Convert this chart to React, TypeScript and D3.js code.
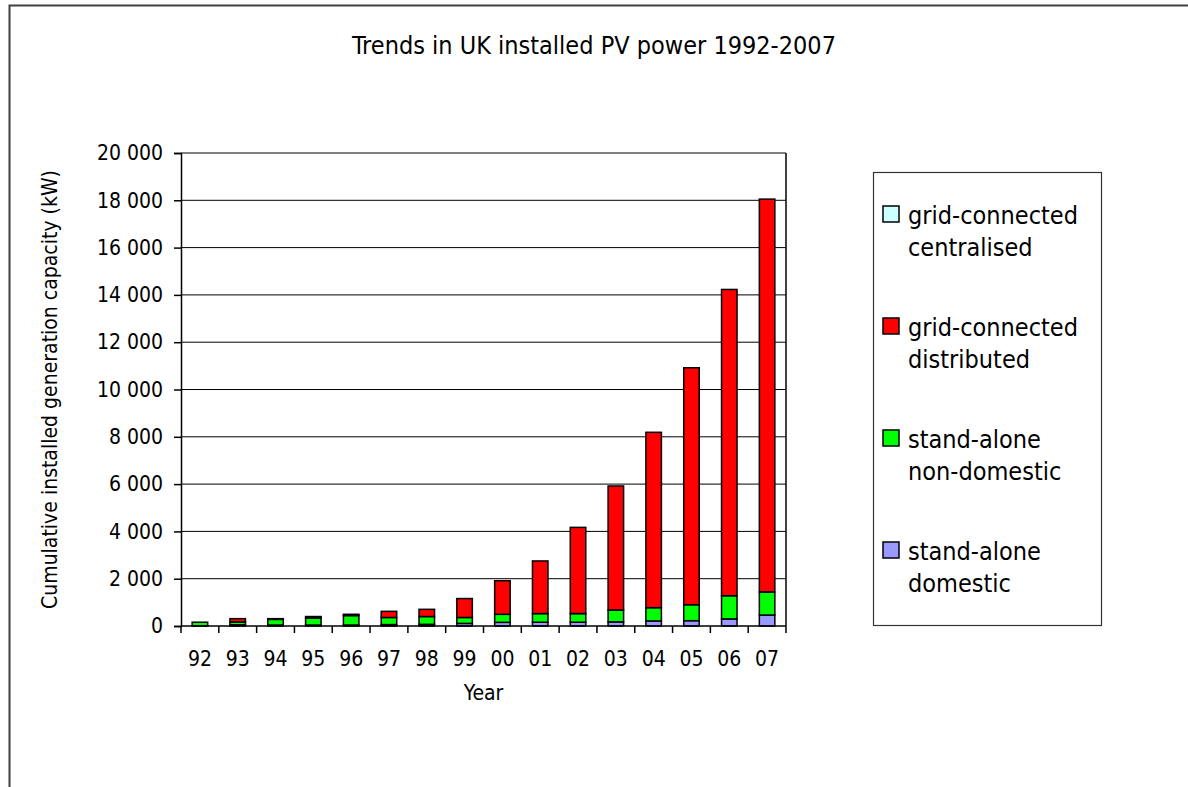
import React, { useEffect, useRef } from 'react';
import * as d3 from 'd3';

// values (kW, cumulative)
const years = ['92', '93', '94', '95', '96', '97', '98', '99', '00', '01', '02', '03', '04', '05', '06', '07'];
const domestic = [10, 50, 40, 40, 40, 60, 70, 110, 155, 160, 160, 175, 215, 225, 300, 465];
const nonDomestic = [150, 120, 240, 300, 400, 300, 330, 250, 340, 365, 365, 500, 560, 675, 980, 975];
const distributed = [0, 140, 30, 60, 55, 260, 305, 800, 1420, 2225, 3645, 5245, 7415, 10020, 12950, 16610];
const centralised = [0, 0, 0, 0, 0, 0, 0, 0, 0, 0, 0, 0, 0, 0, 0, 0];

const yTicks = [0, 2000, 4000, 6000, 8000, 10000, 12000, 14000, 16000, 18000, 20000];

const seriesKeys = ['domestic', 'nonDomestic', 'distributed', 'centralised'];
const seriesColors: Record<string, string> = {
  domestic: '#9999ff',
  nonDomestic: '#00ff00',
  distributed: '#ff0000',
  centralised: '#ccffff',
};
const legendItems = [
  { key: 'centralised', lines: ['grid-connected', 'centralised'] },
  { key: 'distributed', lines: ['grid-connected', 'distributed'] },
  { key: 'nonDomestic', lines: ['stand-alone', 'non-domestic'] },
  { key: 'domestic', lines: ['stand-alone', 'domestic'] },
];

const FONT = "'DejaVu Sans Condensed', 'DejaVu Sans', sans-serif";

const App: React.FC = () => {
  const ref = useRef<SVGSVGElement | null>(null);

  useEffect(() => {
    if (!ref.current) return;
    const svg = d3.select(ref.current);
    svg.selectAll('*').remove();

    const W = 1188, H = 787;
    const plot = { left: 181, right: 786, top: 153, bottom: 626 };

    // outer chart frame (runs off the page on the right / bottom)
    svg.append('path')
      .attr('d', `M9.5,${H} V5.5 H${W}`)
      .attr('fill', 'none')
      .attr('stroke', '#404040')
      .attr('stroke-width', 2);

    svg.append('text')
      .attr('x', 594)
      .attr('y', 54)
      .attr('text-anchor', 'middle')
      .style('font-family', FONT)
      .style('font-size', '25px')
      .text('Trends in UK installed PV power 1992-2007');

    const rows = years.map((y, i) => ({
      year: y,
      domestic: domestic[i],
      nonDomestic: nonDomestic[i],
      distributed: distributed[i],
      centralised: centralised[i],
    }));

    const x = d3.scaleBand<string>()
      .domain(years)
      .range([plot.left, plot.right])
      .paddingInner(0.59)
      .paddingOuter(0.295);

    const y = d3.scaleLinear().domain([0, 20000]).range([plot.bottom, plot.top]);

    // gridlines
    svg.append('g')
      .selectAll('line')
      .data(yTicks.filter(t => t > 0))
      .enter().append('line')
      .attr('x1', plot.left)
      .attr('x2', plot.right)
      .attr('y1', d => y(d))
      .attr('y2', d => y(d))
      .attr('stroke', '#000')
      .attr('stroke-width', 1);

    // right border of plot area
    svg.append('line')
      .attr('x1', plot.right).attr('x2', plot.right)
      .attr('y1', plot.top).attr('y2', plot.bottom)
      .attr('stroke', '#000').attr('stroke-width', 1.5);

    const stack = d3.stack<any>().keys(seriesKeys);
    const layers = stack(rows);

    svg.append('g')
      .selectAll('g')
      .data(layers)
      .enter().append('g')
      .attr('fill', d => seriesColors[d.key])
      .selectAll('rect')
      .data(d => d.filter(s => s[1] - s[0] > 0))
      .enter().append('rect')
      .attr('x', d => x(d.data.year) as number)
      .attr('width', x.bandwidth())
      .attr('y', d => y(d[1]))
      .attr('height', d => y(d[0]) - y(d[1]))
      .attr('stroke', '#000')
      .attr('stroke-width', 1.5);

    // y axis
    const yAxis = svg.append('g').attr('transform', `translate(${plot.left},0)`)
      .call(d3.axisLeft(y).tickValues(yTicks).tickSize(7).tickPadding(11)
        .tickFormat(d => d3.format(',')(d as number).replace(/,/g, ' ')));
    yAxis.select('.domain').attr('stroke', '#000').attr('stroke-width', 1.5);
    yAxis.selectAll('.tick line').attr('stroke', '#000').attr('stroke-width', 1.5);
    yAxis.selectAll('.tick text')
      .attr('fill', '#000')
      .style('font-family', FONT)
      .style('font-size', '21px');

    // x axis: ticks at category boundaries
    const xAxis = svg.append('g').attr('transform', `translate(0,${plot.bottom})`);
    xAxis.append('line')
      .attr('x1', plot.left).attr('x2', plot.right)
      .attr('stroke', '#000').attr('stroke-width', 1.5);
    const step = x.step();
    xAxis.selectAll('.xt')
      .data(d3.range(years.length + 1))
      .enter().append('line')
      .attr('class', 'xt')
      .attr('x1', i => plot.left + i * step)
      .attr('x2', i => plot.left + i * step)
      .attr('y1', 0).attr('y2', 7)
      .attr('stroke', '#000').attr('stroke-width', 1.5);
    xAxis.selectAll('.xl')
      .data(years)
      .enter().append('text')
      .attr('class', 'xl')
      .attr('x', d => (x(d) as number) + x.bandwidth() / 2)
      .attr('y', 40)
      .attr('text-anchor', 'middle')
      .style('font-family', FONT)
      .style('font-size', '21px')
      .text(d => d);

    svg.append('text')
      .attr('x', (plot.left + plot.right) / 2)
      .attr('y', 700)
      .attr('text-anchor', 'middle')
      .style('font-family', FONT)
      .style('font-size', '21px')
      .text('Year');

    svg.append('text')
      .attr('transform', `translate(57,${(plot.top + plot.bottom) / 2}) rotate(-90)`)
      .attr('text-anchor', 'middle')
      .style('font-family', FONT)
      .style('font-size', '21px')
      .text('Cumulative installed generation capacity (kW)');

    // legend
    const lg = svg.append('g');
    lg.append('rect')
      .attr('x', 873.5).attr('y', 172.5)
      .attr('width', 228).attr('height', 453)
      .attr('fill', '#fff')
      .attr('stroke', '#333')
      .attr('stroke-width', 1.2);
    legendItems.forEach((item, i) => {
      const base = 224 + i * 112;
      lg.append('rect')
        .attr('x', 883).attr('y', base - 18)
        .attr('width', 16).attr('height', 16)
        .attr('fill', seriesColors[item.key])
        .attr('stroke', '#000')
        .attr('stroke-width', 1.5);
      item.lines.forEach((line, j) => {
        lg.append('text')
          .attr('x', 908)
          .attr('y', base + j * 31.5)
          .style('font-family', FONT)
          .style('font-size', '25px')
          .text(line);
      });
    });
  }, []);

  return (
    <svg
      ref={ref}
      width={1188}
      height={787}
      style={{ position: 'absolute', left: 0, top: 0, background: '#fff' }}
    />
  );
};

export default App;
